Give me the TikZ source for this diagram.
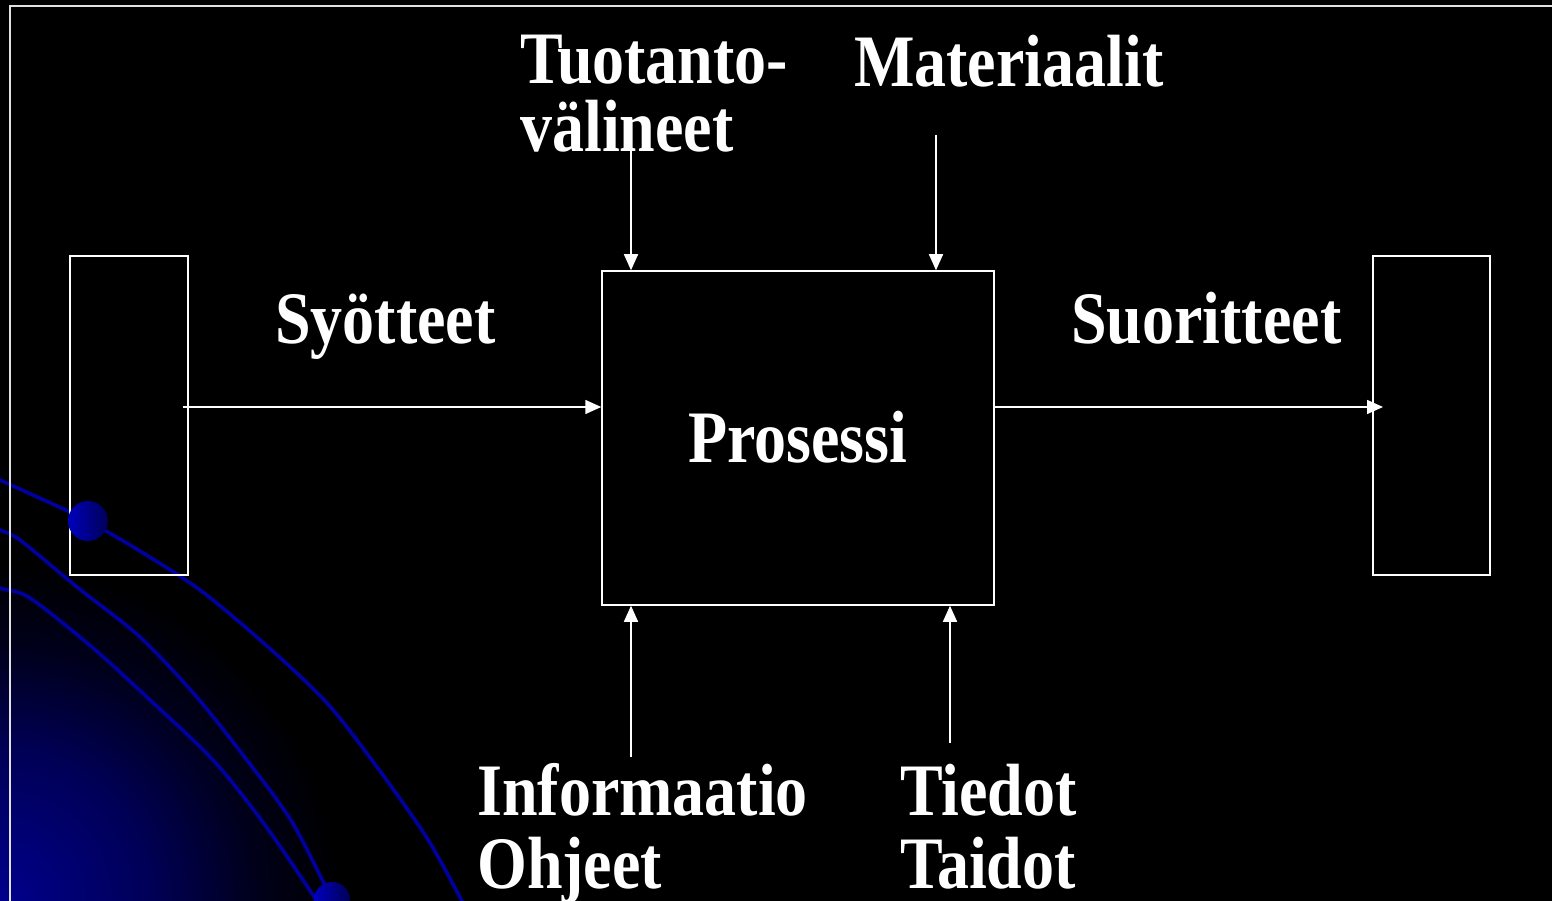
\documentclass[tikz,border=0pt]{standalone}
\usepackage{fontspec}
\setmainfont{Liberation Serif}[FakeStretch=0.865]
\usetikzlibrary{arrows.meta}

% soft blue glow in the lower left corner
\pgfdeclareradialshading{cornerglow}{\pgfpoint{0bp}{0bp}}{%
  rgb(0bp)=(0,0,0.55); rgb(11bp)=(0,0,0.34); rgb(19bp)=(0,0,0.1);
  rgb(25bp)=(0,0,0); rgb(50bp)=(0,0,0)}

\definecolor{swoosh}{RGB}{0,0,160}
\definecolor{beadlight}{RGB}{0,0,190}
\definecolor{beaddark}{RGB}{0,0,85}
\definecolor{frameline}{RGB}{225,225,225}

\tikzset{
  lbl/.style={text=white, font=\fontsize{74}{80}\selectfont\bfseries,
              inner sep=0pt, anchor=base west},
  blockbox/.style={draw=white, line width=1.5pt, inner sep=0pt},
  flow/.style={draw=white, line width=1.5pt,
               -{Triangle[length=16pt,width=14pt]}},
  curve/.style={draw=swoosh, line width=3.6pt},
  bead/.style={circle, minimum size=40pt, inner sep=0pt,
               left color=beadlight, right color=beaddark}
}

\begin{document}
\begin{tikzpicture}[x=1pt,y=-1pt]
  \useasboundingbox (0,0) rectangle (1552,901);
  \fill[black] (-10,-10) rectangle (1562,911);

  \begin{scope}
    \clip (0,0) rectangle (1552,901);
    % background glow and curved lines
    \shade[shading=cornerglow] (-340,561) rectangle (340,1241);
    \draw[curve] plot[smooth] coordinates {(-20,471) (0,480) (70,512) (88,521)
      (135,548) (200,590) (267,646) (327,703) (377,767) (427,838) (462,901) (470,915)};
    \draw[curve] plot[smooth] coordinates {(-20,520) (0,530) (20,540) (77,587)
      (140,637) (195,695) (243,755) (292,822) (332,900)};
    \draw[curve] plot[smooth] coordinates {(-20,577) (0,588) (30,598) (93,648)
      (150,700) (213,760) (265,825) (317,901) (325,915)};
    % frame
    \draw[frameline, line width=1.5pt] (10,920) -- (10,6) -- (1570,6);
  \end{scope}

  % blocks
  \node[blockbox, minimum width=118pt, minimum height=319pt] (src) at (129,415.5) {};
  \node[blockbox, minimum width=392pt, minimum height=334pt] (proc) at (798,438) {};
  \node[blockbox, minimum width=117pt, minimum height=319pt] (dst) at (1431.5,415.5) {};

  % beads on the curves
  \begin{scope}
    \clip (0,0) rectangle (1552,901);
    \node[bead] (b1) at (88,521) {};
    \node[bead, minimum size=36pt] (b2) at (332,900) {};
  \end{scope}

  % connector end points
  \coordinate (inS) at (183,407);
  \coordinate (outE) at (1383,407);
  \coordinate (topA) at (631,150);
  \coordinate (topB) at (936,135);
  \coordinate (botA) at (631,757);
  \coordinate (botB) at (950,743);

  % connectors
  \draw[flow] (inS) -- (inS -| proc.west);
  \draw[flow] (proc.east |- outE) -- (outE);
  \draw[flow] (topA) -- (topA |- proc.north);
  \draw[flow] (topB) -- (topB |- proc.north);
  \draw[flow] (botA) -- (botA |- proc.south);
  \draw[flow] (botB) -- (botB |- proc.south);

  % labels
  \node[lbl] (t1) at (520,84) {Tuotanto-};
  \node[lbl] (t2) at (520,152) {välineet};
  \node[lbl] (t3) at (854,87) {Materiaalit};
  \node[lbl] (t4) at (275,343) {Syötteet};
  \node[lbl] (t5) at (688,462) {Prosessi};
  \node[lbl] (t6) at (1071,343) {Suoritteet};
  \node[lbl] (t7) at (477,815) {Informaatio};
  \node[lbl] (t8) at (477,888) {Ohjeet};
  \node[lbl] (t9) at (900,815) {Tiedot};
  \node[lbl] (t10) at (900,888) {Taidot};
\end{tikzpicture}
\end{document}
